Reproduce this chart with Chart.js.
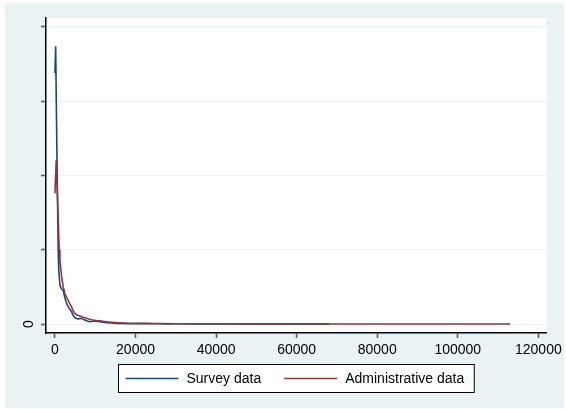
<!DOCTYPE html>
<html>
<head>
<meta charset="utf-8">
<title>Density: survey vs administrative data</title>
<script src="https://cdn.jsdelivr.net/npm/chart.js@4/dist/chart.umd.min.js"></script>
<style>
  html, body { margin: 0; padding: 0; background: #ffffff; }
  #wrap { width: 566px; height: 409px; }
</style>
</head>
<body>
<div id="wrap"><canvas id="densityChart" width="566" height="409"></canvas></div>
<script>
// Series labels
const seriesNames = ['Survey data', 'Administrative data'];

// Survey data density curve (x = income, y = density in axis units)
const surveyX = [0, 180, 330, 570, 800, 950, 1235, 1650, 2050, 2470, 2890, 3285, 3700, 4125, 4500,
    4940, 5350, 5755, 6200, 6595, 7000, 7410, 8000, 8645, 9400, 10300, 11100, 11860, 13000, 14000,
    15240, 16500, 18000, 20000, 22000, 24000, 26000, 28000, 30000, 34000, 38000, 42000, 46000,
    50000, 55000, 60000, 64000, 68000];
const surveyY = [3.38, 3.74, 3.0, 1.94, 1.0, 0.72, 0.52, 0.47, 0.45, 0.35, 0.28, 0.23, 0.2, 0.166, 0.12,
    0.09, 0.075, 0.067, 0.072, 0.077, 0.062, 0.054, 0.04, 0.031, 0.038, 0.04, 0.03, 0.023, 0.018, 0.014,
    0.009, 0.008, 0.005, 0.004, 0.005, 0.003, 0.004, 0.002, 0.003, 0.002, 0.001, 0.002, 0.001,
    0.001, 0.001, 0.0005, 0.0005, 0.0003];

// Administrative data density curve
const adminX = [0, 320, 550, 815, 1060, 1235, 1650, 2050, 2470, 2890, 3285, 3700, 4125, 4500, 4940,
    5500, 6175, 7000, 7830, 8600, 9460, 10300, 11115, 12000, 12770, 14000, 15240, 17000, 19000,
    22000, 26000, 30000, 35000, 40000, 50000, 60000, 70000, 80000, 90000, 100000, 113000];
const adminY = [1.76, 2.21, 1.85, 1.4, 1.0, 0.86, 0.64, 0.5, 0.41, 0.36, 0.32, 0.27, 0.23, 0.18, 0.144,
    0.12, 0.108, 0.09, 0.077, 0.065, 0.054, 0.048, 0.044, 0.036, 0.031, 0.024, 0.018, 0.014, 0.01,
    0.008, 0.006, 0.004, 0.003, 0.003, 0.002, 0.002, 0.001, 0.001, 0.001, 0.0008, 0.0005];

// Axis ticks
const xTicks = [0, 20000, 40000, 60000, 80000, 100000, 120000];
const yTicks = [0, 1, 2, 3, 4];
const yTickLabels = ['0', '', '', '', ''];

const FONT = '"Liberation Sans", Arial, Helvetica, sans-serif';

// Turn two parallel arrays into {x, y} points
function toPoints(xs, ys) {
    return xs.map((x, i) => ({ x: x, y: ys[i] }));
}

// Stata-style background: graph region and white plot region
const backgroundPlugin = {
    id: 'stataBackground',
    beforeDraw(chart) {
        const ctx = chart.ctx;
        const area = chart.chartArea;
        ctx.save();
        ctx.fillStyle = '#ffffff';
        ctx.fillRect(0, 0, chart.width, chart.height);
        ctx.fillStyle = '#eaf2f3';
        ctx.fillRect(5, 3, 559, 405);
        ctx.fillStyle = '#ffffff';
        ctx.fillRect(area.left, area.top, area.right - area.left, area.bottom - area.top);
        ctx.restore();
    }
};

// Boxed legend under the plot, built from the datasets
const boxLegendPlugin = {
    id: 'boxLegend',
    afterDraw(chart) {
        const ctx = chart.ctx;
        const area = chart.chartArea;
        const sets = chart.data.datasets;
        const lineLen = 53, textGap = 8, itemGap = 23, padL = 7, padR = 10;
        ctx.save();
        ctx.font = '14px ' + FONT;
        const widths = sets.map(ds => lineLen + textGap + ctx.measureText(ds.label).width);
        const total = padL + widths.reduce((a, b) => a + b, 0) + itemGap * (sets.length - 1) + padR;
        const left = Math.round((area.left + area.right) / 2 - total / 2) + 0.5;
        const top = 364.5, height = 28;
        const midY = top + height / 2;

        ctx.fillStyle = '#ffffff';
        ctx.fillRect(left, top, total, height);
        ctx.strokeStyle = '#000000';
        ctx.lineWidth = 1;
        ctx.strokeRect(left, top, total, height);

        let x = left + padL;
        sets.forEach((ds, i) => {
            ctx.strokeStyle = ds.borderColor;
            ctx.lineWidth = 1.5;
            ctx.beginPath();
            ctx.moveTo(x, midY);
            ctx.lineTo(x + lineLen, midY);
            ctx.stroke();
            ctx.fillStyle = '#000000';
            ctx.textBaseline = 'middle';
            ctx.textAlign = 'left';
            ctx.fillText(ds.label, x + lineLen + textGap, midY + 1);
            x += widths[i] + itemGap;
        });
        ctx.restore();
    }
};

const ctx = document.getElementById('densityChart').getContext('2d');
const densityChart = new Chart(ctx, {
    type: 'scatter',
    data: {
        datasets: [{
            label: seriesNames[0],
            data: toPoints(surveyX, surveyY),
            borderColor: '#1a476f',
            borderWidth: 1.6,
            showLine: true,
            pointRadius: 0,
            tension: 0,
            order: 2
        }, {
            label: seriesNames[1],
            data: toPoints(adminX, adminY),
            borderColor: '#90353b',
            borderWidth: 1.6,
            showLine: true,
            pointRadius: 0,
            tension: 0,
            order: 1
        }]
    },
    options: {
        responsive: false,
        animation: false,
        devicePixelRatio: 1,
        layout: { padding: { left: 0, top: 18, right: 17, bottom: 46 } },
        plugins: {
            legend: { display: false },
            tooltip: { enabled: false }
        },
        scales: {
            x: {
                type: 'linear',
                min: -2222,
                max: 121975,
                afterBuildTicks: scale => { scale.ticks = xTicks.map(v => ({ value: v })); },
                afterFit: scale => { scale.height = 30; },
                border: { color: '#000000', width: 1.5 },
                grid: { drawOnChartArea: false, drawTicks: true, tickLength: 5, tickColor: '#555555', tickWidth: 1.5 },
                ticks: {
                    color: '#000000',
                    font: { family: FONT, size: 14 },
                    padding: 4,
                    maxRotation: 0,
                    callback: v => String(v)
                }
            },
            y: {
                type: 'linear',
                min: -0.1212,
                max: 4.1212,
                afterBuildTicks: scale => { scale.ticks = yTicks.map(v => ({ value: v })); },
                afterFit: scale => { scale.width = 46; },
                border: { color: '#000000', width: 1.5 },
                grid: { color: '#eaf2f3', lineWidth: 1, drawTicks: true, tickLength: 5, tickColor: '#555555', tickWidth: 1.5 },
                ticks: {
                    color: '#000000',
                    font: { family: FONT, size: 14 },
                    padding: 8,
                    minRotation: 90,
                    maxRotation: 90,
                    crossAlign: 'center',
                    callback: v => yTickLabels[yTicks.indexOf(v)] || ''
                }
            }
        }
    },
    plugins: [backgroundPlugin, boxLegendPlugin]
});
</script>
</body>
</html>
